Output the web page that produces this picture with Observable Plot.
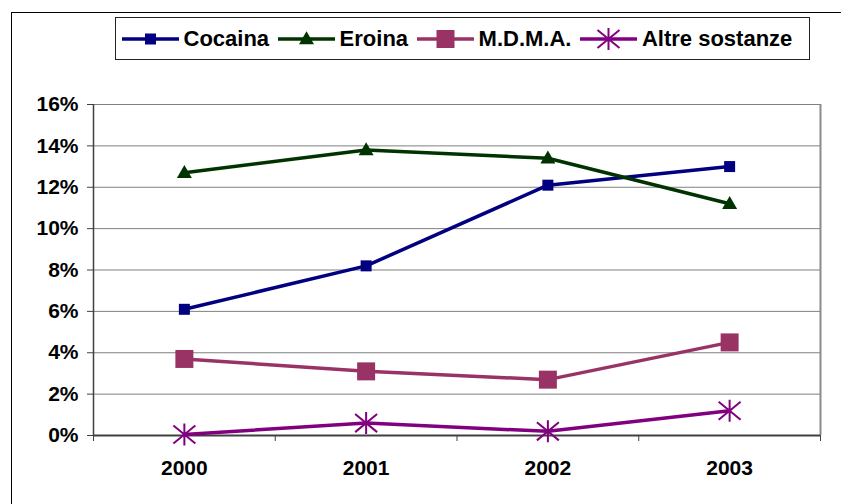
<!DOCTYPE html>
<html>
<head>
<meta charset="utf-8">
<script src="https://cdn.jsdelivr.net/npm/d3@7"></script>
<script src="https://cdn.jsdelivr.net/npm/@observablehq/plot@0.6"></script>
<style>
  html, body { margin: 0; padding: 0; background: #fff; }
  #wrap { position: relative; width: 841px; height: 504px; overflow: hidden;
          font-family: "Liberation Sans", Arial, sans-serif; font-weight: bold; }
  #chart { position: absolute; left: 0; top: 0; }
  #frame { position: absolute; left: 11px; top: 12px; width: 900px; height: 600px;
           border: 1.5px solid #000; box-sizing: border-box; pointer-events: none; z-index: 2; }
  #legend { position: absolute; left: 115px; top: 17px; width: 695px; height: 43px;
            border: 1px solid #222; box-sizing: border-box; background: #fff; z-index: 3;
            display: flex; align-items: center; padding-left: 5.5px; gap: 8.5px; font-size: 22px; color: #000; }
  .item { display: flex; align-items: center; }
  .item span { margin-left: 5px; white-space: nowrap; }
</style>
</head>
<body>
<div id="wrap">
  <div id="chart"></div>
  <div id="frame"></div>
  <div id="legend"></div>
</div>
<script>
// ---- data ----
const years = [2000, 2001, 2002, 2003];
const seriesNames = ["Cocaina", "Eroina", "M.D.M.A.", "Altre sostanze"];
const cocaina = [6.1, 8.2, 12.1, 13.0];
const eroina = [12.7, 13.8, 13.4, 11.2];
const mdma = [3.7, 3.1, 2.7, 4.5];
const altre = [0.05, 0.6, 0.2, 1.2];
const yTicks = [0, 2, 4, 6, 8, 10, 12, 14, 16];
const colors = ["#000080", "#003300", "#993366", "#800080"];

// ---- marker symbols (Excel-like) ----
const squareSym = s => ({ draw(ctx) { const h = s / 2; ctx.moveTo(-h, -h); ctx.lineTo(h, -h); ctx.lineTo(h, h); ctx.lineTo(-h, h); ctx.closePath(); } });
const triangleSym = (w, h) => ({ draw(ctx) { ctx.moveTo(0, -h * 0.6); ctx.lineTo(w / 2, h * 0.4); ctx.lineTo(-w / 2, h * 0.4); ctx.closePath(); } });
const starSym = (w, h) => ({ draw(ctx) { const a = w / 2, b = h / 2, c = b * 0.82; ctx.moveTo(0, -b); ctx.lineTo(0, b); ctx.moveTo(-a, -c); ctx.lineTo(a, c); ctx.moveTo(a, -c); ctx.lineTo(-a, c); } });

const series = [
  { name: seriesNames[0], values: cocaina, color: colors[0], symbol: squareSym(11), filled: true },
  { name: seriesNames[1], values: eroina, color: colors[1], symbol: triangleSym(15, 13), filled: true },
  { name: seriesNames[2], values: mdma, color: colors[2], symbol: squareSym(18), filled: true },
  { name: seriesNames[3], values: altre, color: colors[3], symbol: starSym(22, 22), filled: false }
];

const bounds = years.map(y => y - 0.5).concat([years[years.length - 1] + 0.5]);

const marks = [
  Plot.gridY(yTicks.filter(t => t > 0), { stroke: "#808080", strokeOpacity: 1, strokeWidth: 1 }),
  Plot.ruleX([bounds[bounds.length - 1]], { stroke: "#8a8a8a", strokeWidth: 2 }),
  Plot.axisY(yTicks, { tickSize: 6, tickPadding: 9, tickFormat: d => d + "%", label: null, stroke: "#404040" }),
  Plot.axisX(bounds, { tickSize: 6, fill: "none", label: null, stroke: "#404040" }),
  Plot.axisX(years, { tickSize: 0, tickPadding: 25, tickFormat: d => String(d), label: null }),
  Plot.ruleX([bounds[0]], { stroke: "#404040", strokeWidth: 1.5 }),
  Plot.ruleY([0], { stroke: "#404040", strokeWidth: 2 })
];

for (const s of series) {
  const table = years.map((year, i) => ({ year, value: s.values[i] }));
  marks.push(Plot.line(table, { x: "year", y: "value", stroke: s.color, strokeWidth: 3.5 }));
  marks.push(Plot.dot(table, s.filled
    ? { x: "year", y: "value", symbol: s.symbol, fill: s.color, stroke: "none" }
    : { x: "year", y: "value", symbol: s.symbol, fill: "none", stroke: s.color, strokeWidth: 2 }));
}

const chart = Plot.plot({
  width: 841,
  height: 504,
  marginLeft: 93,
  marginRight: 21,
  marginTop: 104,
  marginBottom: 69,
  x: { domain: [bounds[0], bounds[bounds.length - 1]] },
  y: { domain: [yTicks[0], yTicks[yTicks.length - 1]] },
  style: { fontFamily: "'Liberation Sans', Arial, sans-serif", fontSize: "21px", fontWeight: "bold", background: "transparent", color: "#000" },
  marks
});
document.getElementById("chart").appendChild(chart);

// ---- legend ----
const legend = d3.select("#legend");
for (const s of series) {
  const item = legend.append("div").attr("class", "item");
  const svg = item.append("svg").attr("width", 57).attr("height", 24);
  svg.append("line").attr("x1", 0).attr("x2", 57).attr("y1", 12).attr("y2", 12)
    .attr("stroke", s.color).attr("stroke-width", 3.5);
  const p = d3.path();
  s.symbol.draw(p, 0);
  svg.append("path").attr("d", p.toString()).attr("transform", "translate(28.5,12)")
    .attr("fill", s.filled ? s.color : "none").attr("stroke", s.filled ? "none" : s.color).attr("stroke-width", 2);
  item.append("span").text(s.name);
}
</script>
</body>
</html>
